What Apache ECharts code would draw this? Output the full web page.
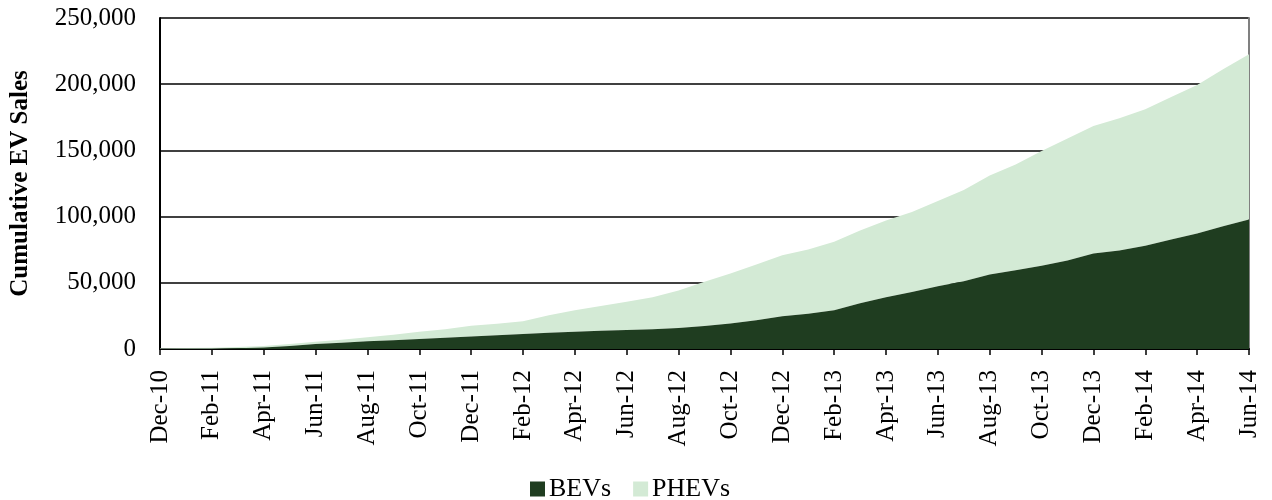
<!DOCTYPE html>
<html lang="en">

<head>
    <meta charset="UTF-8">
    <title>Cumulative EV Sales</title>
    <script type="text/javascript" src="https://cdn.jsdelivr.net/npm/echarts@6/dist/echarts.min.js"></script>
    <style>
        body {
            margin: 0;
            background-color: #fff;
            overflow: hidden;
        }
    </style>
</head>

<body>
    <div style="width: 1272px; height: 500px" id="container"></div>
</body>
<script>
    var dom = document.getElementById("container");
    var myChart = echarts.init(dom);

    // months Dec-10 .. Jun-14
    let months = ['Dec-10',
        'Jan-11', 'Feb-11', 'Mar-11', 'Apr-11', 'May-11', 'Jun-11', 'Jul-11', 'Aug-11', 'Sep-11', 'Oct-11', 'Nov-11', 'Dec-11',
        'Jan-12', 'Feb-12', 'Mar-12', 'Apr-12', 'May-12', 'Jun-12', 'Jul-12', 'Aug-12', 'Sep-12', 'Oct-12', 'Nov-12', 'Dec-12',
        'Jan-13', 'Feb-13', 'Mar-13', 'Apr-13', 'May-13', 'Jun-13', 'Jul-13', 'Aug-13', 'Sep-13', 'Oct-13', 'Nov-13', 'Dec-13',
        'Jan-14', 'Feb-14', 'Mar-14', 'Apr-14', 'May-14', 'Jun-14'];

    // cumulative sales
    let bevs = [20,
        100, 200, 500, 1100, 2300, 3800, 4800, 5800, 6700, 7600, 8500, 9500,
        10300, 11300, 12300, 13100, 13700, 14300, 14900, 15800, 17300, 19200, 21800, 24700,
        26700, 29200, 34500, 39000, 43100, 47400, 51100, 56200, 59500, 62800, 66800, 72100,
        74400, 77900, 82700, 87200, 92800, 97800];

    let phevs = [380,
        600, 800, 1100, 1200, 1500, 1700, 2200, 3000, 4100, 5400, 6500, 8100,
        8700, 9600, 13200, 16100, 18800, 21300, 24100, 28400, 33400, 37800, 42100, 46200,
        48500, 51800, 55000, 58000, 60400, 64300, 68900, 74800, 79900, 86700, 92200, 96300,
        99800, 103100, 107600, 112200, 118500, 124800];

    let yTicks = [0, 50000, 100000, 150000, 200000, 250000];

    let fontFamily = '"Liberation Serif", "DejaVu Serif", serif';
    let formatNumber = function (num) {
        let reg = /(?=(\B)(\d{3})+$)/g;
        return num.toString().replace(reg, ',');
    }

    var option = {
        backgroundColor: '#fff',
        animation: false,
        color: ['#1f3d20', '#d3ead5'],
        textStyle: {
            fontFamily: fontFamily
        },
        grid: {
            left: 160,
            right: 23,
            top: 18,
            bottom: 151
        },
        legend: {
            left: 525,
            top: 471,
            icon: 'rect',
            itemWidth: 15,
            itemHeight: 15,
            itemGap: 22,
            itemStyle: {
                borderWidth: 0
            },
            textStyle: {
                fontSize: 26,
                color: '#000',
                fontFamily: fontFamily,
                padding: [0, 0, 0, -1]
            },
            data: ['BEVs', 'PHEVs']
        },
        xAxis: [{
            type: 'category',
            data: months,
            boundaryGap: false,
            axisLine: {
                lineStyle: {
                    color: '#000',
                    width: 2
                }
            },
            axisTick: {
                interval: 1,
                length: 6,
                lineStyle: {
                    color: '#000',
                    width: 1.5
                }
            },
            axisLabel: {
                interval: 1,
                rotate: 90,
                margin: 21,
                fontSize: 25,
                color: '#000',
                fontFamily: fontFamily
            },
            splitLine: {
                show: false
            }
        }],
        yAxis: [{
            type: 'value',
            min: 0,
            max: 250000,
            interval: 50000,
            name: 'Cumulative EV Sales',
            nameLocation: 'middle',
            nameGap: 127,
            nameTextStyle: {
                fontSize: 25,
                fontWeight: 'bold',
                color: '#000',
                fontFamily: fontFamily
            },
            axisLine: {
                show: true,
                lineStyle: {
                    color: '#000',
                    width: 2
                }
            },
            axisTick: {
                show: false
            },
            axisLabel: {
                margin: 24,
                fontSize: 25,
                color: '#000',
                fontFamily: fontFamily,
                formatter: v => yTicks.indexOf(v) >= 0 ? formatNumber(v) : ''
            },
            splitLine: {
                lineStyle: {
                    color: '#000',
                    width: 1.5
                }
            }
        }, {
            type: 'value',
            position: 'right',
            min: 0,
            max: 250000,
            interval: 50000,
            axisLine: {
                show: true,
                lineStyle: {
                    color: '#808080',
                    width: 2
                }
            },
            axisTick: {
                show: false
            },
            axisLabel: {
                show: false
            },
            splitLine: {
                show: false
            }
        }],
        series: [{
            name: 'BEVs',
            type: 'line',
            stack: 'total',
            data: bevs,
            showSymbol: false,
            symbol: 'none',
            lineStyle: {
                width: 0
            },
            areaStyle: {
                opacity: 1
            },
            z: 3
        }, {
            name: 'PHEVs',
            type: 'line',
            stack: 'total',
            data: phevs,
            showSymbol: false,
            symbol: 'none',
            lineStyle: {
                width: 0
            },
            areaStyle: {
                opacity: 1
            },
            z: 2
        }]
    };
    if (option && typeof option === 'object') {
        myChart.setOption(option);
    }
</script>

</html>
